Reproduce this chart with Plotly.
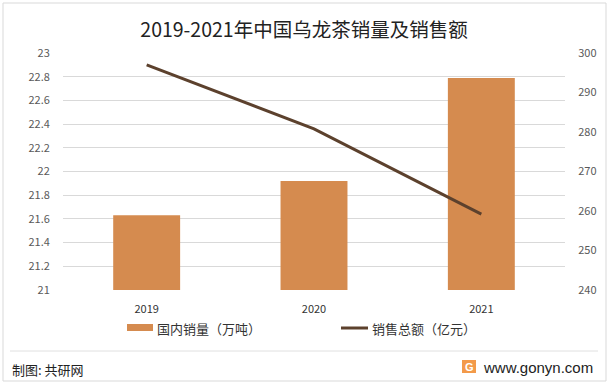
import plotly.graph_objects as go

years = ["2019", "2020", "2021"]
sales_volume = [21.63, 21.92, 22.79]   # 国内销量（万吨）
sales_value = [297.0, 280.8, 259.2]    # 销售总额（亿元）
left_ticks = [21, 21.2, 21.4, 21.6, 21.8, 22, 22.2, 22.4, 22.6, 22.8, 23]
right_ticks = [240, 250, 260, 270, 280, 290, 300]
series_names = ["国内销量（万吨）", "销售总额（亿元）"]

W, H = 612, 385
ML, MR, MT, MB = 63, 47, 53, 95
PW, PH = W - ML - MR, H - MT - MB

def px(x):
    return (x - ML) / PW

def py(y):
    return (H - MB - y) / PH

font = "Noto Sans CJK SC, Liberation Sans, sans-serif"
bar_color = "#D58B4F"
line_color = "#5C412D"

fig = go.Figure()
fig.add_trace(go.Bar(
    x=years, y=sales_volume, name=series_names[0],
    marker=dict(color=bar_color, line=dict(width=0)),
    width=0.4, yaxis="y",
))
fig.add_trace(go.Scatter(
    x=years, y=sales_value, name=series_names[1], mode="lines",
    line=dict(color=line_color, width=3), yaxis="y2",
))

fig.update_layout(
    width=W, height=H,
    margin=dict(l=ML, r=MR, t=MT, b=MB),
    paper_bgcolor="white", plot_bgcolor="white",
    font=dict(family=font, size=11, color="#595959"),
    title=dict(text="2019-2021年中国乌龙茶销量及销售额", x=304 / W, xanchor="center",
               xref="container", y=1 - 30 / H, yanchor="middle",
               font=dict(family=font, size=19.5, color="#222222")),
    showlegend=False,
    xaxis=dict(showgrid=False, showline=False, zeroline=False,
               tickfont=dict(size=11, color="#333333"),
               ticks="outside", ticklen=9, tickcolor="rgba(0,0,0,0)"),
    yaxis=dict(range=[21, 23], tickvals=left_ticks,
               ticktext=[f"{v:g}" for v in left_ticks],
               showgrid=True, gridcolor="#D9D9D9", gridwidth=1,
               zeroline=False, showline=False,
               ticks="outside", ticklen=10, tickcolor="rgba(0,0,0,0)",
               tickfont=dict(size=11, color="#595959")),
    yaxis2=dict(range=[240, 300], tickvals=right_ticks, overlaying="y", side="right",
                showgrid=False, zeroline=False, showline=False,
                ticks="outside", ticklen=10, tickcolor="rgba(0,0,0,0)",
                tickfont=dict(size=11, color="#595959")),
)

shapes = [
    dict(type="rect", xref="paper", yref="paper", x0=px(3), x1=px(606), y0=py(3), y1=py(381),
         line=dict(color="#D9D9D9", width=1), fillcolor="rgba(0,0,0,0)", layer="below"),
    dict(type="line", xref="paper", yref="paper", x0=px(10), x1=px(598), y0=py(351), y1=py(351),
         line=dict(color="#E0E0E0", width=1)),
    dict(type="rect", xref="paper", yref="paper", x0=px(462), x1=px(476), y0=py(360), y1=py(373),
         line=dict(width=0), fillcolor="#F39A4A"),
    # legend swatches
    dict(type="rect", xref="paper", yref="paper", x0=px(127), x1=px(153), y0=py(324), y1=py(331),
         line=dict(width=0), fillcolor=bar_color),
    dict(type="line", xref="paper", yref="paper", x0=px(341), x1=px(368), y0=py(328), y1=py(328),
         line=dict(color=line_color, width=3)),
]
fig.update_layout(shapes=shapes)

fig.add_annotation(text=series_names[0], xref="paper", yref="paper", x=px(155), y=py(328),
                   xanchor="left", yanchor="middle", showarrow=False,
                   font=dict(family=font, size=13, color="#333333"))
fig.add_annotation(text=series_names[1], xref="paper", yref="paper", x=px(370), y=py(328),
                   xanchor="left", yanchor="middle", showarrow=False,
                   font=dict(family=font, size=13, color="#333333"))
fig.add_annotation(text="制图: 共研网", xref="paper", yref="paper", x=px(10), y=py(369),
                   xanchor="left", yanchor="middle", showarrow=False,
                   font=dict(family=font, size=13, color="#222222"))
fig.add_annotation(text="<b>G</b>", xref="paper", yref="paper", x=px(469), y=py(366.5),
                   xanchor="center", yanchor="middle", showarrow=False,
                   font=dict(family="Liberation Sans", size=11, color="white"))
fig.add_annotation(text="www.gonyn.com", xref="paper", yref="paper", x=px(595), y=py(367),
                   xanchor="right", yanchor="middle", showarrow=False,
                   font=dict(family="Liberation Sans, sans-serif", size=15, color="#222222"))

fig.write_html("out.html", config={"displayModeBar": False},
               post_script="document.body.style.margin='0';document.body.style.overflow='hidden';")
